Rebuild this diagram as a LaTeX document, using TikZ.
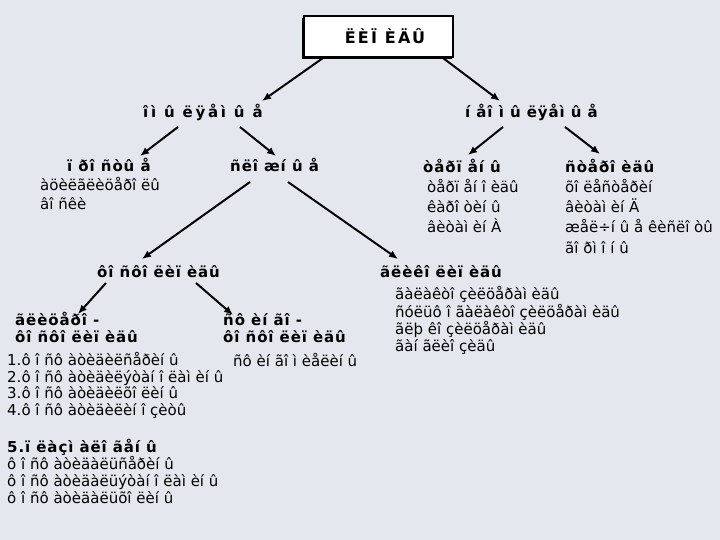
\documentclass[tikz,border=0pt]{standalone}
\usepackage{fontspec}
\setmainfont{DejaVu Sans}
\usetikzlibrary{arrows.meta}
\definecolor{bgc}{RGB}{228,232,238}
\tikzset{
  hdr/.style={font=\fontsize{15}{17}\selectfont\bfseries\addfontfeature{LetterSpace=6}, inner sep=0pt, anchor=base west},
  widehdr/.style={font=\fontsize{15}{17}\selectfont\bfseries\addfontfeature{LetterSpace=18}, inner sep=0pt, anchor=base west},
  ttl/.style={font=\fontsize{16}{18}\selectfont\bfseries\addfontfeature{LetterSpace=14}, inner sep=0pt, anchor=base},
  txt/.style={font=\fontsize{15}{17}\selectfont, inner sep=0pt, anchor=base west},
  conn/.style={line width=2pt, -{Latex[length=9pt,width=7.5pt]}},
  titlebox/.style={draw=black, line width=1.2pt, fill=white}
}
\begin{document}
\begin{tikzpicture}[x=1pt,y=-1pt]
\fill[bgc] (0,0) rectangle (720,540);
\useasboundingbox (0,0) rectangle (720,540);
% title
\fill[black] (302,18) rectangle (452,59);
\draw[titlebox] (304,16) rectangle (453,57);
\node[ttl] (title) at (385,44) {ËÈÏ ÈÄÛ};
% level 1
\node[widehdr] (omyl) at (143,118) {îì û ëÿåì û å};
\node[hdr] (neomyl) at (465,118) {í åî ì û ëÿåì û å};
% level 2
\node[hdr] (prost) at (67,172) {ï ðî ñòû å};
\node[txt] (acil) at (40,191) {àöèëãëèöåðî ëû};
\node[txt] (vosk) at (40,210) {âî ñêè};
\node[hdr] (slozh) at (230,172) {ñëî æí û å};
\node[hdr] (terp) at (423,173) {òåðï åí û};
\node[txt] (terp1) at (427,193) {òåðï åí î èäû};
\node[txt] (terp2) at (427,213) {êàðî òèí û};
\node[txt] (terp3) at (427,233) {âèòàì èí  À};
\node[hdr] (ster) at (565,173) {ñòåðî èäû};
\node[txt] (ster1) at (565,193) {õî ëåñòåðèí};
\node[txt] (ster2) at (565,213) {âèòàì èí  Ä};
\node[txt] (ster3) at (565,233) {æåë÷í û å êèñëî òû};
\node[txt] (ster4) at (565,253) {ãî ðì î í û};
% level 3
\node[hdr] (fosf) at (97,277) {ôî ñôî ëèï èäû};
\node[hdr] (glik) at (380,277) {ãëèêî ëèï èäû};
\node[txt] (glik1) at (395,299) {ãàëàêòî çèëöåðàì  èäû};
\node[txt] (glik2) at (395,317) {ñóëüô î ãàëàêòî çèëöåðàì  èäû};
\node[txt] (glik3) at (395,334) {ãëþ êî çèëöåðàì  èäû};
\node[txt] (glik4) at (395,351) {ãàí ãëèî çèäû};
% level 4
\node[hdr] (glic) at (15,325) {ãëèöåðî -};
\node[hdr] (glicb) at (15,342) {ôî ñôî ëèï èäû};
\node[hdr] (sfin) at (223,325) {ñô èí ãî -};
\node[hdr] (sfinb) at (223,342) {ôî ñôî ëèï èäû};
\node[txt] (sfin1) at (233,366) {ñô èí ãî ì èåëèí û};
% list
\node[txt] (l1) at (7,365) {1.ô î ñô àòèäèëñåðèí û};
\node[txt] (l2) at (7,382) {2.ô î ñô àòèäèëýòàí î ëàì èí û};
\node[txt] (l3) at (7,398) {3.ô î ñô àòèäèëõî ëèí û};
\node[txt] (l4) at (7,415) {4.ô î ñô àòèäèëèí î çèòû};
\node[hdr] (l5) at (7,452) {5.ï ëàçì àëî ãåí û};
\node[txt] (l6) at (7,469) {ô î ñô àòèäàëüñåðèí û};
\node[txt] (l7) at (7,486) {ô î ñô àòèäàëüýòàí î ëàì èí û};
\node[txt] (l8) at (7,503) {ô î ñô àòèäàëüõî ëèí û};
% connector end points
\coordinate (a1s) at (323,58);  \coordinate (a1e) at (262,101);
\coordinate (a2s) at (443,58);  \coordinate (a2e) at (500,101);
\coordinate (a3s) at (178,127); \coordinate (a3e) at (140,156);
\coordinate (a4s) at (240,127); \coordinate (a4e) at (276,156);
\coordinate (a5s) at (503,127); \coordinate (a5e) at (468,155);
\coordinate (a6s) at (565,127); \coordinate (a6e) at (600,154);
\coordinate (a7s) at (250,182); \coordinate (a7e) at (142,259);
\coordinate (a8s) at (288,182); \coordinate (a8e) at (398,259);
\coordinate (a9s) at (106,283); \coordinate (a9e) at (78,314);
\coordinate (a10s) at (196,283); \coordinate (a10e) at (233,315);
\draw[conn] (a1s) -- (a1e);
\draw[conn] (a2s) -- (a2e);
\draw[conn] (a3s) -- (a3e);
\draw[conn] (a4s) -- (a4e);
\draw[conn] (a5s) -- (a5e);
\draw[conn] (a6s) -- (a6e);
\draw[conn] (a7s) -- (a7e);
\draw[conn] (a8s) -- (a8e);
\draw[conn] (a9s) -- (a9e);
\draw[conn] (a10s) -- (a10e);
\end{tikzpicture}
\end{document}
